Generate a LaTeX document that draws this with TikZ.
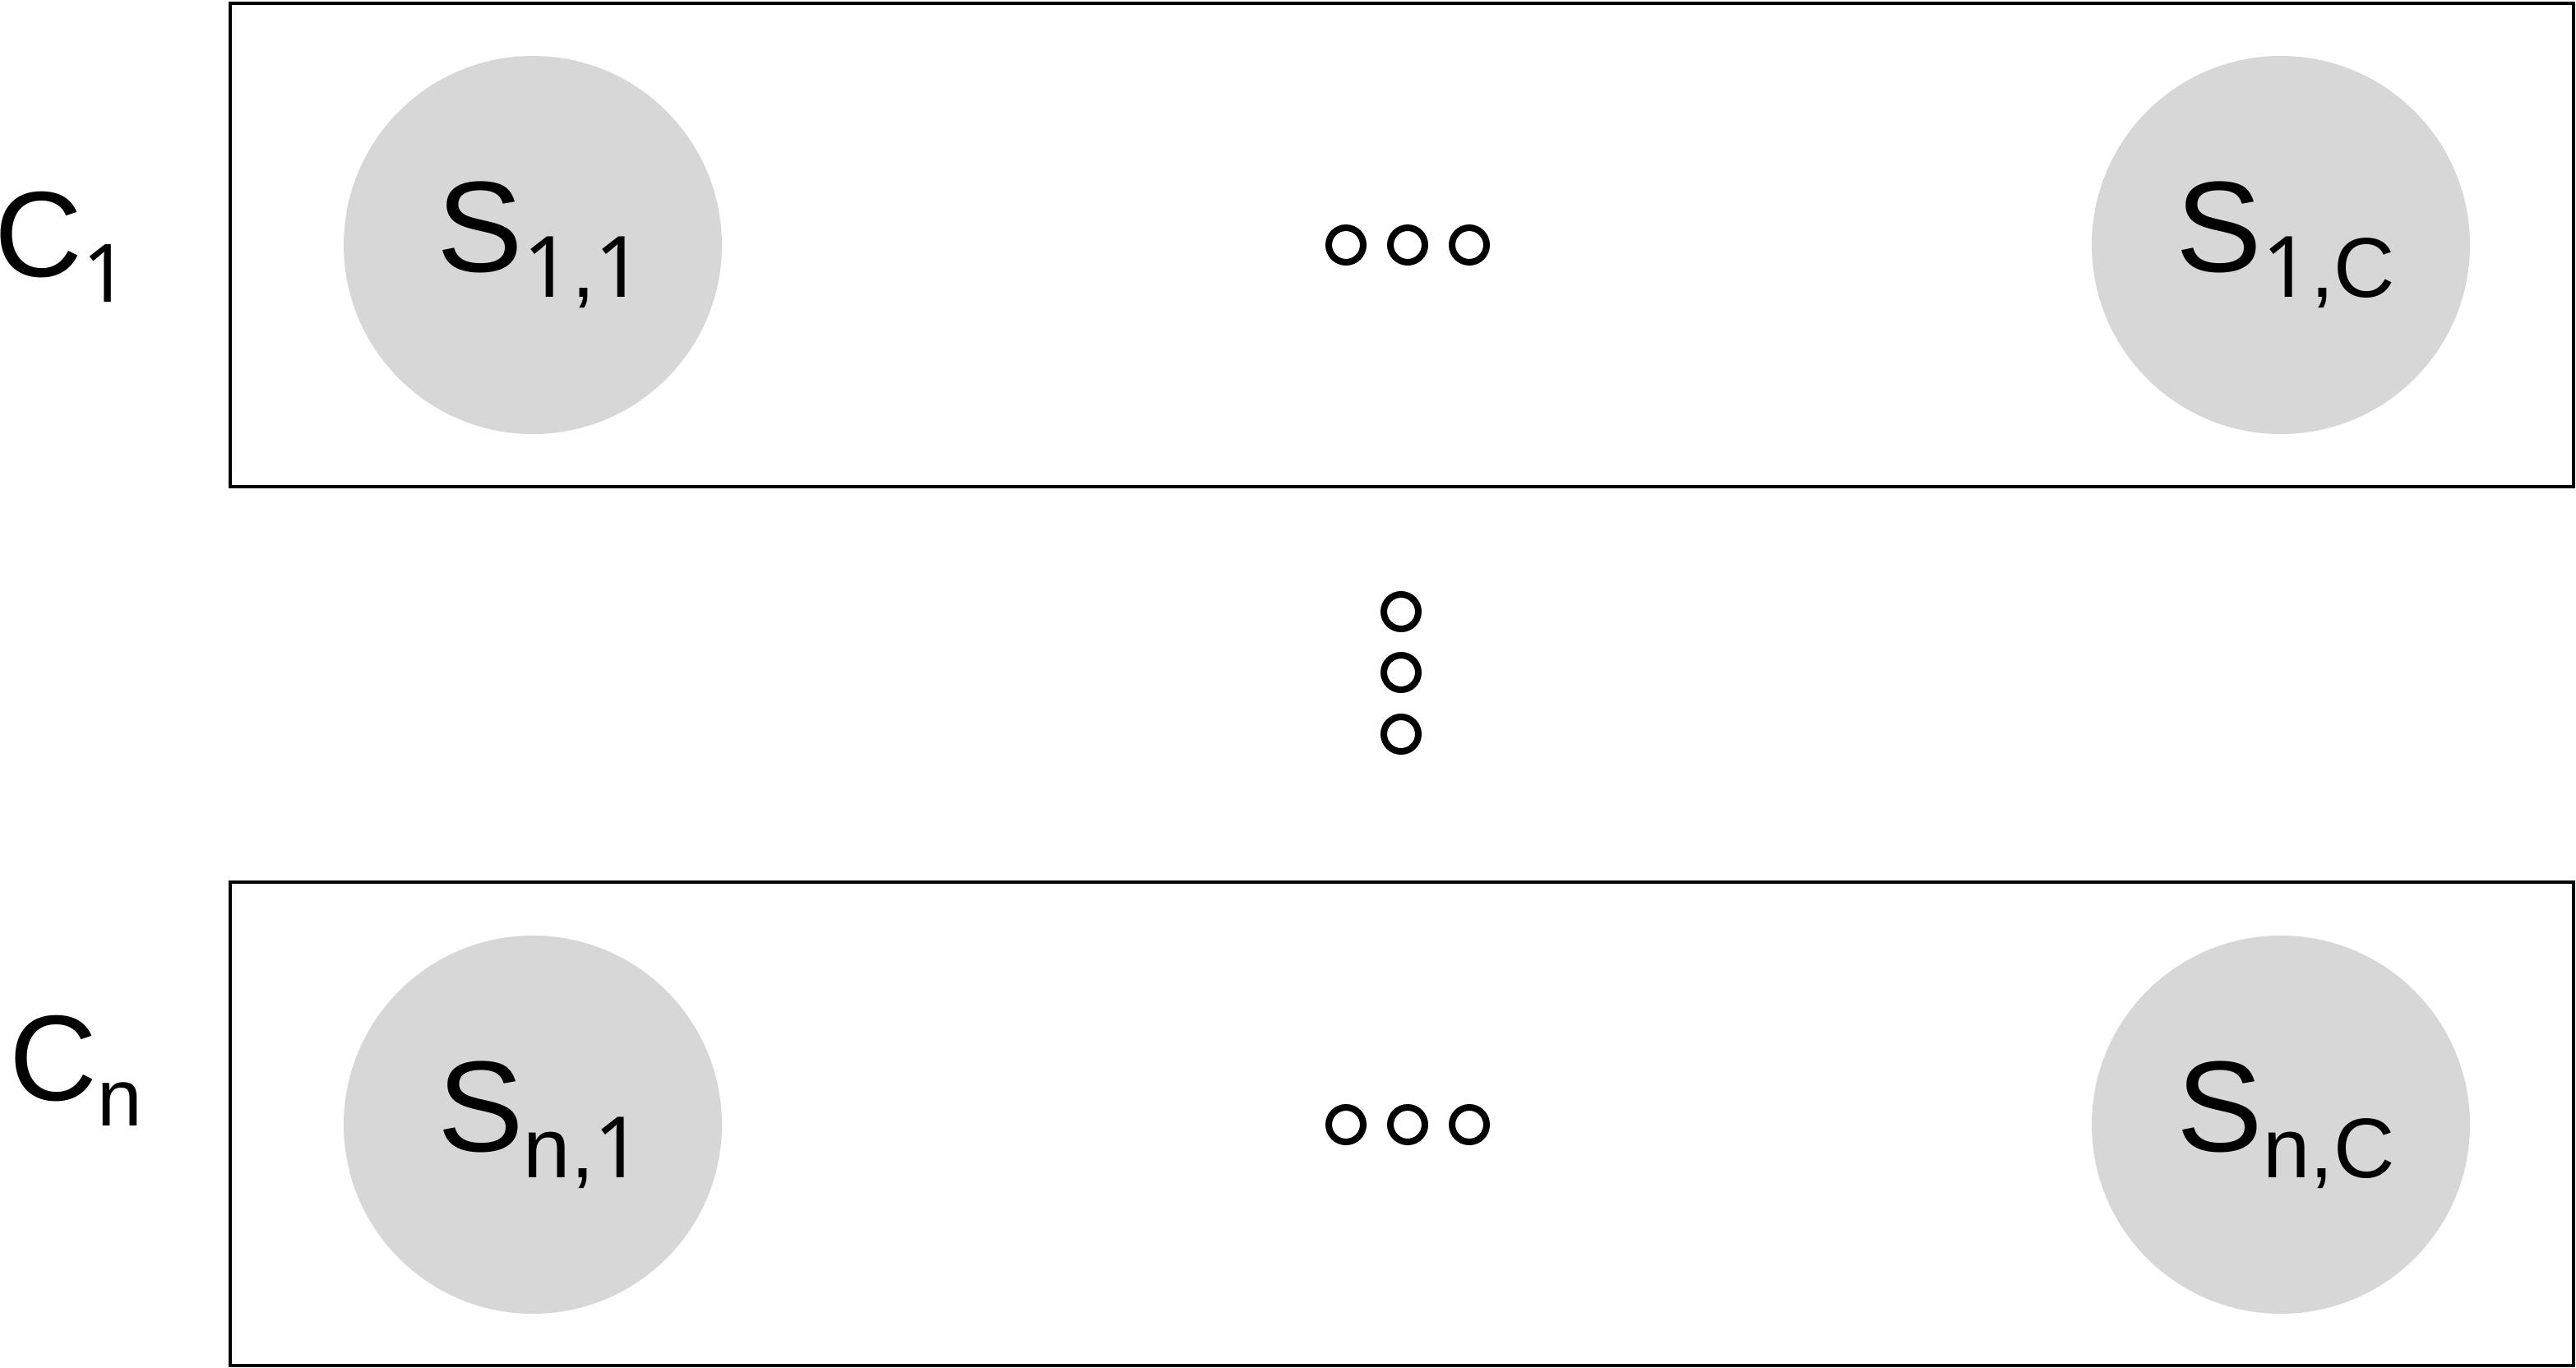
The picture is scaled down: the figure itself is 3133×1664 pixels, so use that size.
\documentclass[tikz,border=0pt]{standalone}
\usepackage{fontspec}
\setmainfont{Liberation Sans}
\newfontfamily\onefont{Noto Sans}
\definecolor{sgray}{HTML}{D7D7D7}
\newcommand{\one}{{\onefont 1}}
\newcommand{\sitelab}[2]{{\fontsize{157pt}{157pt}\selectfont #1}\raisebox{-32pt}{\fontsize{103pt}{103pt}\selectfont #2}}
\newcommand{\grouplab}[2]{{\fontsize{148pt}{148pt}\selectfont #1}\raisebox{-31pt}{\fontsize{98pt}{98pt}\selectfont #2}}
\begin{document}
\begin{tikzpicture}[x=1pt,y=-1pt,
  group/.style={draw=black,line width=4pt},
  site/.style={circle,fill=sgray,draw=none,minimum size=460pt,inner sep=0pt},
  ring/.style={circle,draw=black,line width=8pt,minimum size=42pt,inner sep=0pt},
  txt/.style={inner sep=0pt,outer sep=0pt,anchor=base}
]
\useasboundingbox (0,0) rectangle (3133,1664);
% group boxes
\draw[group] (280,4) rectangle (3130,592);
\draw[group] (280,1073) rectangle (3130,1661);
% sites
\node[site] (s11) at (648,298) {};
\node[site] (s1c) at (2774,298) {};
\node[site] (sn1) at (648,1368) {};
\node[site] (snc) at (2774,1368) {};
% labels of sites
\node[txt] (t11) at (657,330) {\sitelab{S}{\one,\one}};
\node[txt] (t1c) at (2780,330) {\sitelab{S}{\one,C}};
\node[txt] (tn1) at (657,1400) {\sitelab{S}{n,\one}};
\node[txt] (tnc) at (2780,1400) {\sitelab{S}{n,C}};
% group labels
\node[txt,anchor=base west] (c1) at (-6,336) {\grouplab{C}{\one}};
\node[txt,anchor=base west] (cn) at (12,1338) {\grouplab{C}{n}};
% dots
\node[ring] (h1a) at (1637,298) {};
\node[ring] (h1b) at (1712,298) {};
\node[ring] (h1c) at (1787,298) {};
\node[ring] (hna) at (1637,1368) {};
\node[ring] (hnb) at (1712,1368) {};
\node[ring] (hnc) at (1787,1368) {};
\node[ring] (va) at (1704,744) {};
\node[ring] (vb) at (1704,818) {};
\node[ring] (vc) at (1704,893) {};
\end{tikzpicture}
\end{document}
